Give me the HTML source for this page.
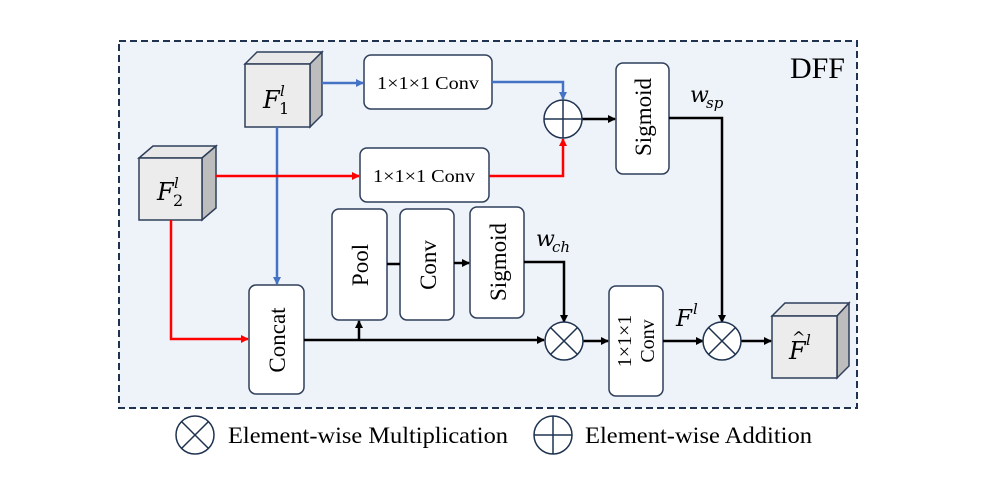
<!DOCTYPE html>
<html><head><meta charset="utf-8"><style>body{margin:0;background:#fff}svg{display:block}</style></head><body>
<svg width="1001" height="479" viewBox="0 0 1001 479" xmlns="http://www.w3.org/2000/svg" font-family="Liberation Serif, serif">
<defs>
<marker id="ab" markerWidth="8" markerHeight="8" refX="7" refY="4" orient="auto" markerUnits="userSpaceOnUse"><path d="M0,0L8,4L0,8z" fill="#000"/></marker>
<marker id="abl" markerWidth="8" markerHeight="8" refX="7" refY="4" orient="auto" markerUnits="userSpaceOnUse"><path d="M0,0L8,4L0,8z" fill="#4472c4"/></marker>
<marker id="ar" markerWidth="8" markerHeight="8" refX="7" refY="4" orient="auto" markerUnits="userSpaceOnUse"><path d="M0,0L8,4L0,8z" fill="#f00"/></marker>
</defs>
<rect x="119" y="41" width="738" height="367" fill="#eef3fa" stroke="#1f3350" stroke-width="2" stroke-dasharray="7,4"/>
<text x="845" y="78" font-size="30" text-anchor="end">DFF</text>
<g stroke="#2f3f5a" stroke-width="1.5">
<polygon points="245,64 257,52 322,52 310,64" fill="#e8e8e8"/>
<polygon points="310,64 322,52 322,115 310,127" fill="#bdbdbd"/>
<rect x="245" y="64" width="65" height="63" fill="#ececec"/>
<polygon points="139,158 153,146 216,146 202,158" fill="#e8e8e8"/>
<polygon points="202,158 216,146 216,208 202,220" fill="#bdbdbd"/>
<rect x="139" y="158" width="63" height="62" fill="#ececec"/>
<polygon points="772,316 785,303 849,303 837,316" fill="#e8e8e8"/>
<polygon points="837,316 849,303 849,366 837,378" fill="#bdbdbd"/>
<rect x="772" y="316" width="65" height="62" fill="#ececec"/>
<g fill="#fff">
<rect x="364" y="55" width="128" height="54" rx="7"/>
<rect x="360" y="148" width="129" height="54" rx="7"/>
<rect x="616" y="63" width="53" height="111" rx="7"/>
<rect x="249" y="285" width="55" height="109" rx="7"/>
<rect x="332" y="209" width="55" height="111" rx="7"/>
<rect x="400" y="209" width="54" height="111" rx="7"/>
<rect x="470" y="207" width="54" height="111" rx="7"/>
<rect x="609" y="286" width="54" height="110" rx="7"/>
</g>
</g>
<g fill="none" stroke-width="2.5">
<path d="M322,83H363" stroke="#4472c4" marker-end="url(#abl)"/>
<path d="M492,82H563V99" stroke="#4472c4" marker-end="url(#abl)"/>
<path d="M277,127V284" stroke="#4472c4" marker-end="url(#abl)"/>
<path d="M216,176H359" stroke="#f00" marker-end="url(#ar)"/>
<path d="M489,176H563V139" stroke="#f00" marker-end="url(#ar)"/>
<path d="M171,220V339H248" stroke="#f00" marker-end="url(#ar)"/>
<path d="M582,119H615" stroke="#000" marker-end="url(#ab)"/>
<path d="M669,118H722V322" stroke="#000" marker-end="url(#ab)"/>
<path d="M304,340H544" stroke="#000" marker-end="url(#ab)"/>
<path d="M359,340V321" stroke="#000" marker-end="url(#ab)"/>
<path d="M387,264H400" stroke="#000"/>
<path d="M454,263H469" stroke="#000" marker-end="url(#ab)"/>
<path d="M524,262H564V322" stroke="#000" marker-end="url(#ab)"/>
<path d="M583,341H608" stroke="#000" marker-end="url(#ab)"/>
<path d="M663,341H703" stroke="#000" marker-end="url(#ab)"/>
<path d="M741,341H771" stroke="#000" marker-end="url(#ab)"/>
</g>
<g fill="#fff" stroke="#1f3350" stroke-width="1.5">
<circle cx="563" cy="119" r="19"/><path d="M544,119H582M563,100V138"/>
<circle cx="564" cy="341" r="19"/><path d="M550.6,327.6L577.4,354.4M577.4,327.6L550.6,354.4"/>
<circle cx="722" cy="341" r="19"/><path d="M708.6,327.6L735.4,354.4M735.4,327.6L708.6,354.4"/>
<circle cx="195" cy="435" r="19"/><path d="M181.6,421.6L208.4,448.4M208.4,421.6L181.6,448.4"/>
<circle cx="553" cy="435" r="19"/><path d="M534,435H572M553,416V454"/>
</g>
<g font-size="18" fill="#000">
<text x="377" y="89" textLength="102" lengthAdjust="spacingAndGlyphs">1×1×1 Conv</text>
<text x="373" y="182" textLength="102" lengthAdjust="spacingAndGlyphs">1×1×1 Conv</text>
</g>
<g font-size="23" fill="#000" text-anchor="middle">
<text transform="translate(651,117) rotate(-90)">Sigmoid</text>
<text transform="translate(285,340) rotate(-90)">Concat</text>
<text transform="translate(368,265) rotate(-90)">Pool</text>
<text transform="translate(436,265) rotate(-90)">Conv</text>
<text transform="translate(506,262) rotate(-90)">Sigmoid</text>
<text transform="translate(631,341) rotate(-90)" font-size="20">1×1×1</text>
<text transform="translate(654,341) rotate(-90)" font-size="20">Conv</text>
</g>
<g font-style="italic" fill="#000" font-family="DejaVu Serif, serif">
<text x="263" y="108" font-size="24">F</text><text x="280" y="96" font-size="15">l</text><text x="279" y="114" font-size="16" font-style="normal">1</text>
<text x="157" y="200" font-size="24">F</text><text x="174" y="188" font-size="15">l</text><text x="173" y="206" font-size="16" font-style="normal">2</text>
<text x="690" y="102" font-size="22">w</text><text x="706" y="108" font-size="15">sp</text>
<text x="536" y="246" font-size="22">w</text><text x="552" y="252" font-size="15">ch</text>
<text x="676" y="326" font-size="23">F</text><text x="693" y="314" font-size="15">l</text>
<text x="789" y="359" font-size="24">F</text><text x="792" y="343" font-size="16" font-style="normal">^</text><text x="806" y="345" font-size="15">l</text>
</g>
<g font-size="23" fill="#000">
<text x="228" y="443" textLength="280" lengthAdjust="spacingAndGlyphs">Element-wise Multiplication</text>
<text x="585" y="443" textLength="227" lengthAdjust="spacingAndGlyphs">Element-wise Addition</text>
</g>
</svg>
</body></html>
